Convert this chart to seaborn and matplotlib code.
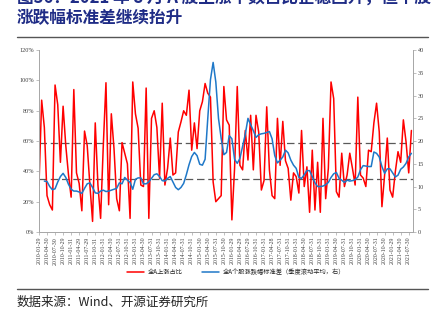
import numpy as np
import pandas as pd
import matplotlib
matplotlib.use("Agg")
import matplotlib.pyplot as plt
import seaborn as sns
from matplotlib.lines import Line2D
from matplotlib.ticker import FuncFormatter, MultipleLocator

# ---- data ----
dates = pd.date_range("2010-01-01", periods=140, freq="BME")
date_labels = [d.strftime("%Y-%m-%d") for d in dates]

up_ratio = [31, 87, 69, 24, 18, 14.5, 97, 84, 46, 83, 57, 38, 23, 94, 39, 32, 14, 66.6, 57, 31,
            7, 72, 31, 9, 57, 98.5, 18, 78, 55, 22, 14, 59, 52, 45, 9, 99, 78, 68.5, 31, 30,
            95, 9, 75, 80, 69, 35.5, 85, 31, 42, 62, 37.6, 39, 66, 72.7, 80, 77, 93.6, 54, 72, 55,
            80, 86, 98, 91.6, 89, 33, 20, 22, 24, 96, 74, 70.5, 8, 42, 96, 44, 41, 67, 47.5, 77,
            41, 77, 66, 27.7, 34, 82.6, 41, 24, 22, 75, 44, 73, 47, 42, 21, 39, 36.5, 25.7, 67, 30,
            43, 13, 54, 14.5, 46, 13, 75, 22, 42, 99, 88, 26.6, 23, 52, 30, 37.6, 52, 42, 31, 89,
            37.6, 35.6, 30, 54, 53, 72, 85, 66, 16.7, 37.6, 62, 27.7, 23, 39.8, 53, 46, 74, 59.5, 39, 67]

# std dev (quarterly rolling mean), starts 2010-03
std_dev = [11.2, 11.1, 10.0, 9.3, 9.5, 11.0, 12.2, 12.9, 12.0, 10.5, 9.4, 9.0, 9.0, 8.8, 8.5, 9.6,
           10.6, 10.8, 9.8, 8.6, 8.5, 9.0, 9.2, 8.9, 9.0, 9.2, 9.4, 9.6, 10.8, 10.6, 12.0, 11.4,
           10.9, 9.4, 11.6, 11.9, 11.9, 10.6, 10.6, 11.0, 11.8, 12.6, 12.8, 12.2, 11.3, 11.2, 11.8,
           12.2, 11.0, 9.8, 9.3, 9.8, 10.7, 12.6, 14.8, 16.6, 17.5, 16.8, 14.9, 14.7, 16.0, 25.0,
           33.5, 37.3, 33.0, 25.0, 20.6, 17.0, 17.5, 21.2, 20.5, 16.0, 15.1, 16.2, 18.8, 21.5, 25.0,
           23.6, 22.3, 20.8, 21.4, 21.6, 21.7, 21.9, 22.1, 20.5, 16.8, 15.2, 15.8, 16.5, 18.0, 17.4,
           15.8, 14.7, 14.0, 12.0, 11.8, 12.6, 13.5, 13.5, 12.2, 10.8, 10.0, 10.0, 10.1, 10.4, 10.9,
           12.0, 12.8, 13.1, 11.8, 11.4, 10.9, 11.4, 11.2, 11.3, 11.5, 12.1, 13.7, 14.6, 14.5, 14.4,
           14.4, 17.6, 17.3, 16.5, 14.4, 12.9, 13.9, 13.9, 13.0, 12.1, 12.5, 13.8, 14.3, 15.1, 16.5, 17.3]

ref_levels = [58.5, 34.7]  # dashed reference lines (%)

label_up = "全A上涨占比"
label_std = "全A个股涨跌幅标准差（季度滚动平均，右）"
title_line1 = "图36：2021 年 8 月 A 股上涨个数占比企稳回升，但个股"
title_line2 = "涨跌幅标准差继续抬升"
source_text = "数据来源：Wind、开源证券研究所"

# ---- frames ----
n = len(up_ratio)
df_up = pd.DataFrame({"idx": np.arange(n), "val": np.array(up_ratio) / 100.0})
start = n - len(std_dev)
df_std = pd.DataFrame({"idx": np.arange(start, n), "val": std_dev})

# ---- style ----
sns.set_theme(style="white")
plt.rcParams["font.family"] = ["Noto Sans CJK SC", "DejaVu Sans"]

RED = "#FF0000"
BLUE = "#1F78C8"
AXC = "#A6A6A6"
TXT = "#404040"

fig = plt.figure(figsize=(4.44, 3.30), dpi=100)
ax = fig.add_axes([0.0878, 0.297, 0.8424, 0.551])
ax2 = ax.twinx()

sns.lineplot(data=df_up, x="idx", y="val", ax=ax, color=RED, linewidth=1.1, legend=False)
sns.lineplot(data=df_std, x="idx", y="val", ax=ax2, color=BLUE, linewidth=1.1, legend=False)

for lv in ref_levels:
    ax.axhline(lv / 100.0, color="#595959", linestyle=(0, (6, 3)), linewidth=0.9, zorder=1)

ax.set_xlim(0, 139.6)
ax.set_ylim(0, 1.2)
ax2.set_ylim(0, 40)

ax.yaxis.set_major_locator(MultipleLocator(0.2))
ax.yaxis.set_major_formatter(FuncFormatter(lambda v, p: f"{v*100:.0f}%"))
ax2.yaxis.set_major_locator(MultipleLocator(5))

tick_pos = list(range(0, n, 3))
ax.set_xticks(tick_pos)
ax.set_xticklabels([date_labels[i] for i in tick_pos], rotation=90, fontsize=4.2,
                   color=TXT, family=["Liberation Serif", "DejaVu Serif"])
ax.tick_params(axis="y", labelsize=4.5, colors=TXT, length=2, width=0.5, pad=1.5, left=True)
ax2.tick_params(axis="y", labelsize=4.5, colors=TXT, length=2, width=0.5, pad=1.5, right=True)
ax.tick_params(axis="x", length=2, width=0.5, pad=1.5, bottom=True, colors=TXT)
for lab in ax.get_yticklabels() + ax2.get_yticklabels():
    lab.set_family(["Liberation Serif", "DejaVu Serif"])

for a in (ax, ax2):
    a.set_xlabel("")
    a.set_ylabel("")
    a.spines["top"].set_visible(False)
    for s in ("left", "right", "bottom"):
        a.spines[s].set_color(AXC)
        a.spines[s].set_linewidth(0.6)
ax.tick_params(axis="both", which="both", colors=AXC, labelcolor=TXT)
ax2.tick_params(axis="both", which="both", colors=AXC, labelcolor=TXT)

handles = [Line2D([], [], color=RED, linewidth=1.1),
           Line2D([], [], color=BLUE, linewidth=1.1)]
fig.legend(handles, [label_up, label_std], loc="center", bbox_to_anchor=(0.532, 0.176),
           ncol=2, frameon=False, fontsize=4.5, handlelength=2.8, columnspacing=3.0,
           handletextpad=0.6)

# title and frame lines
NAVY = "#1F2C86"
fig.text(0.038, 1 + 2.5 / 330, title_line1, fontsize=12, fontweight="bold", color=NAVY,
         ha="left", va="center")
fig.text(0.038, 1 - 18 / 330, title_line2, fontsize=12, fontweight="bold", color=NAVY,
         ha="left", va="center")
fig.add_artist(Line2D([17 / 444, 428 / 444], [1 - 37 / 330, 1 - 37 / 330],
                      color="#555555", linewidth=1.0))
fig.add_artist(Line2D([17 / 444, 428 / 444], [1 - 289 / 330, 1 - 289 / 330],
                      color="#555555", linewidth=1.0))
fig.text(0.038, 1 - 302 / 330, source_text, fontsize=9, color="#222222",
         ha="left", va="center")

fig.savefig("out.png", dpi=100)
